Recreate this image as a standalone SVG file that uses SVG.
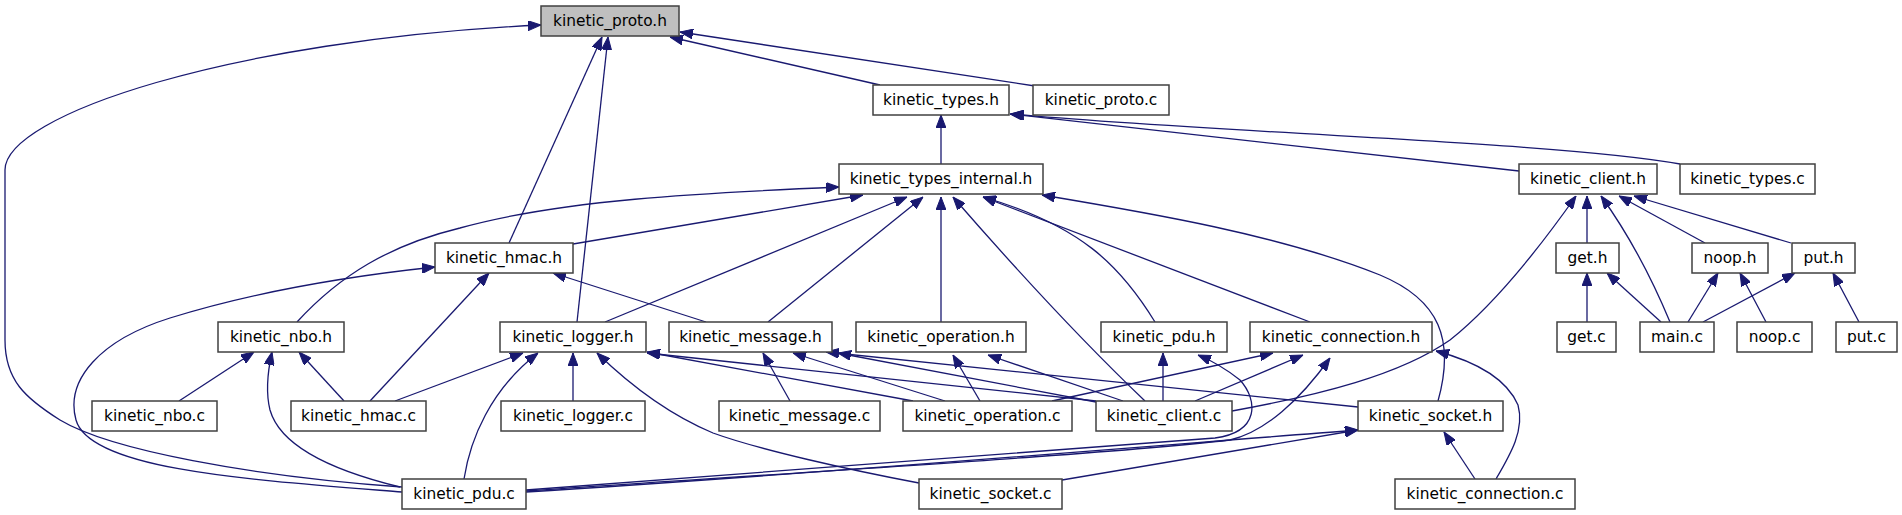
<svg xmlns="http://www.w3.org/2000/svg" width="1902" height="515" viewBox="0 0 1902 515">
<style>
.n rect{fill:#ffffff;stroke:#404040;stroke-width:1.5}
.n.root rect{fill:#bfbfbf}
.n text{font-family:"DejaVu Sans","Liberation Sans",sans-serif;font-size:15.4px;fill:#000000;text-anchor:middle}
#edges path{fill:none;stroke:#191970;stroke-width:1.3;marker-end:url(#ah)}
</style>
<defs>
<marker id="ah" markerUnits="userSpaceOnUse" markerWidth="13" markerHeight="10" viewBox="0 0 13 10" refX="13" refY="5" orient="auto">
<path d="M0,0 L13,5 L0,10 z" fill="#191970" stroke="#191970" stroke-width="1"/>
</marker>
</defs>
<rect width="1902" height="515" fill="#ffffff"/>
<g id="edges">
<path d="M402,487 C250,476 110,450 60,420 C25,398 5,380 5,340 L5,170 C5,115 230,40 541,25"/>
<path d="M509,243 L602,37"/>
<path d="M577,322 L608,37"/>
<path d="M880,85 L670,37"/>
<path d="M1035,86 L680,32"/>
<path d="M941,164 L941,115"/>
<path d="M1519,171 L1010,114"/>
<path d="M1680,164 C1560,142 1200,132 1011,114"/>
<path d="M297,322 C340,275 390,245 460,228 C560,200 700,193 839,187"/>
<path d="M573,244 L863,195"/>
<path d="M605,322 L907,197"/>
<path d="M768,322 L923,197"/>
<path d="M941,322 L941,197"/>
<path d="M1145,401 Q1060,320 953,197"/>
<path d="M1155,322 C1120,265 1080,225 983,197"/>
<path d="M1310,322 L983,197"/>
<path d="M1438,401 C1455,340 1440,300 1380,275 C1280,235 1150,213 1042,195"/>
<path d="M1587,243 L1587,196"/>
<path d="M1670,322 Q1640,250 1601,196"/>
<path d="M1705,243 L1619,196"/>
<path d="M1791,243 L1634,196"/>
<path d="M1232,411 C1320,395 1400,375 1450,340 C1500,300 1545,240 1576,196"/>
<path d="M1587,322 L1587,273"/>
<path d="M1661,322 L1607,273"/>
<path d="M1688,322 L1718,273"/>
<path d="M1766,322 L1740,273"/>
<path d="M1703,322 L1795,273"/>
<path d="M1859,322 L1833,273"/>
<path d="M402,492 C250,480 90,470 76,420 C65,380 100,340 170,318 C260,290 360,275 435,267"/>
<path d="M370,401 L489,273"/>
<path d="M706,322 L553,273"/>
<path d="M179,401 L254,352"/>
<path d="M400,487 C330,470 280,445 270,410 C265,390 268,370 272,352"/>
<path d="M344,401 L299,352"/>
<path d="M395,401 L523,353"/>
<path d="M464,479 C470,440 490,390 538,353"/>
<path d="M573,401 L573,353"/>
<path d="M919,483 C850,470 760,450 713,433 C670,415 630,385 597,353"/>
<path d="M913,401 L647,352"/>
<path d="M1096,401 L647,353"/>
<path d="M790,401 L763,353"/>
<path d="M945,401 L793,353"/>
<path d="M1096,402 L838,353"/>
<path d="M1358,407 L826,352"/>
<path d="M980,401 L953,355"/>
<path d="M1123,401 L988,355"/>
<path d="M1163,401 L1163,353"/>
<path d="M526,490 C800,470 1050,450 1215,438 C1260,432 1258,400 1240,380 C1225,368 1210,360 1198,355"/>
<path d="M526,491 C800,472 1100,455 1230,440 C1265,432 1300,400 1330,358"/>
<path d="M526,492 C800,475 1100,450 1358,430"/>
<path d="M1062,480 L1358,430"/>
<path d="M1052,401 L1273,353"/>
<path d="M1195,401 L1303,355"/>
<path d="M1496,479 C1510,455 1525,430 1518,405 C1505,375 1470,360 1436,351"/>
<path d="M1475,479 L1444,432"/>
</g>
<g id="n_kinetic_proto_h" class="n root"><rect x="541" y="6" width="138" height="30"/><text x="610" y="25.5">kinetic_proto.h</text></g>
<g id="n_kinetic_types_h" class="n"><rect x="873" y="85" width="136" height="30"/><text x="941" y="104.5">kinetic_types.h</text></g>
<g id="n_kinetic_proto_c" class="n"><rect x="1033" y="85" width="136" height="30"/><text x="1101" y="104.5">kinetic_proto.c</text></g>
<g id="n_kinetic_types_internal_h" class="n"><rect x="839" y="164" width="204" height="30"/><text x="941" y="183.5">kinetic_types_internal.h</text></g>
<g id="n_kinetic_client_h" class="n"><rect x="1519" y="164" width="138" height="30"/><text x="1588" y="183.5">kinetic_client.h</text></g>
<g id="n_kinetic_types_c" class="n"><rect x="1680" y="164" width="135" height="30"/><text x="1747.5" y="183.5">kinetic_types.c</text></g>
<g id="n_kinetic_hmac_h" class="n"><rect x="435" y="243" width="138" height="30"/><text x="504" y="262.5">kinetic_hmac.h</text></g>
<g id="n_get_h" class="n"><rect x="1556" y="243" width="63" height="30"/><text x="1587.5" y="262.5">get.h</text></g>
<g id="n_noop_h" class="n"><rect x="1692" y="243" width="76" height="30"/><text x="1730" y="262.5">noop.h</text></g>
<g id="n_put_h" class="n"><rect x="1792" y="243" width="63" height="30"/><text x="1823.5" y="262.5">put.h</text></g>
<g id="n_kinetic_nbo_h" class="n"><rect x="218" y="322" width="126" height="30"/><text x="281" y="341.5">kinetic_nbo.h</text></g>
<g id="n_kinetic_logger_h" class="n"><rect x="500" y="322" width="146" height="30"/><text x="573" y="341.5">kinetic_logger.h</text></g>
<g id="n_kinetic_message_h" class="n"><rect x="669" y="322" width="163" height="30"/><text x="750.5" y="341.5">kinetic_message.h</text></g>
<g id="n_kinetic_operation_h" class="n"><rect x="856" y="322" width="170" height="30"/><text x="941" y="341.5">kinetic_operation.h</text></g>
<g id="n_kinetic_pdu_h" class="n"><rect x="1101" y="322" width="126" height="30"/><text x="1164" y="341.5">kinetic_pdu.h</text></g>
<g id="n_kinetic_connection_h" class="n"><rect x="1250" y="322" width="182" height="30"/><text x="1341" y="341.5">kinetic_connection.h</text></g>
<g id="n_get_c" class="n"><rect x="1557" y="322" width="59" height="30"/><text x="1586.5" y="341.5">get.c</text></g>
<g id="n_main_c" class="n"><rect x="1640" y="322" width="74" height="30"/><text x="1677" y="341.5">main.c</text></g>
<g id="n_noop_c" class="n"><rect x="1737" y="322" width="75" height="30"/><text x="1774.5" y="341.5">noop.c</text></g>
<g id="n_put_c" class="n"><rect x="1836" y="322" width="61" height="30"/><text x="1866.5" y="341.5">put.c</text></g>
<g id="n_kinetic_nbo_c" class="n"><rect x="92" y="401" width="125" height="30"/><text x="154.5" y="420.5">kinetic_nbo.c</text></g>
<g id="n_kinetic_hmac_c" class="n"><rect x="291" y="401" width="135" height="30"/><text x="358.5" y="420.5">kinetic_hmac.c</text></g>
<g id="n_kinetic_logger_c" class="n"><rect x="501" y="401" width="144" height="30"/><text x="573" y="420.5">kinetic_logger.c</text></g>
<g id="n_kinetic_message_c" class="n"><rect x="719" y="401" width="161" height="30"/><text x="799.5" y="420.5">kinetic_message.c</text></g>
<g id="n_kinetic_operation_c" class="n"><rect x="903" y="401" width="169" height="30"/><text x="987.5" y="420.5">kinetic_operation.c</text></g>
<g id="n_kinetic_client_c" class="n"><rect x="1096" y="401" width="136" height="30"/><text x="1164" y="420.5">kinetic_client.c</text></g>
<g id="n_kinetic_socket_h" class="n"><rect x="1358" y="401" width="145" height="30"/><text x="1430.5" y="420.5">kinetic_socket.h</text></g>
<g id="n_kinetic_pdu_c" class="n"><rect x="402" y="479" width="124" height="30"/><text x="464" y="498.5">kinetic_pdu.c</text></g>
<g id="n_kinetic_socket_c" class="n"><rect x="919" y="479" width="143" height="30"/><text x="990.5" y="498.5">kinetic_socket.c</text></g>
<g id="n_kinetic_connection_c" class="n"><rect x="1395" y="479" width="180" height="30"/><text x="1485" y="498.5">kinetic_connection.c</text></g>
</svg>
